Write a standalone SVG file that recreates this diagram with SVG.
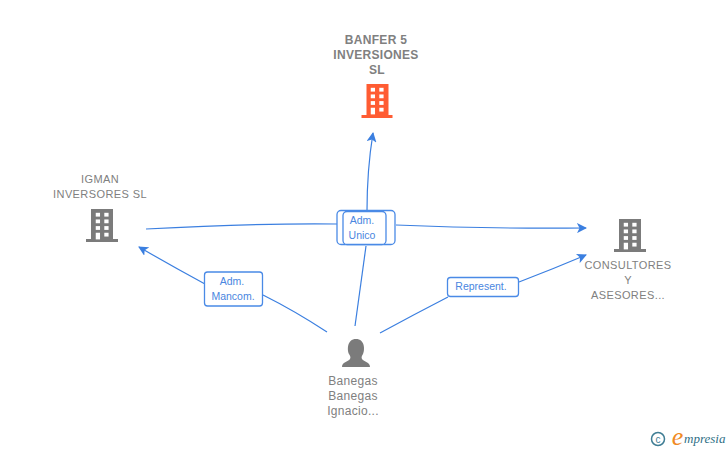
<svg xmlns="http://www.w3.org/2000/svg" width="728" height="450" viewBox="0 0 728 450">
<style>
.n{font-family:"Liberation Sans",Arial,sans-serif;font-size:11px;fill:#808080;text-anchor:middle;letter-spacing:.4px}
.p{font-size:12px;letter-spacing:.3px}
.b{font-weight:bold;font-size:12px;letter-spacing:.3px}
.l{font-family:"Liberation Sans",Arial,sans-serif;font-size:10.500px;fill:#4a86e0;text-anchor:middle}
.c{fill:none;stroke:#3b7fe0;stroke-width:1.2}
.box{fill:#fff;stroke:#4a8ae6;stroke-width:1.3}
.bld{fill:#7b7b7b}
.win{fill:#fff}
</style>
<defs>
<marker id="a" viewBox="0 0 10 10" refX="9" refY="5" markerWidth="10" markerHeight="10" markerUnits="userSpaceOnUse" orient="auto"><path d="M0 0L10 5L0 10L2.5 5Z" fill="#3b7fe0"/></marker>
<g id="w"><rect x="5" y="4" width="4.5" height="4" class="win"/><rect x="14" y="4" width="4.5" height="4" class="win"/><rect x="5" y="11" width="4.5" height="4" class="win"/><rect x="14" y="11" width="4.5" height="4" class="win"/><rect x="5" y="18" width="4.5" height="4" class="win"/><rect x="14" y="18" width="4.5" height="4" class="win"/><rect x="5" y="25" width="4.5" height="7" class="win"/><rect x="14" y="25" width="4.5" height="4" class="win"/></g>
</defs>
<g id="connectors">
<path class="c" d="M146 229Q260 223 337 224"/>
<path class="c" d="M396 225Q490 229 586 228" marker-end="url(#a)"/>
<path class="c" d="M367 211Q367 170 373 133" marker-end="url(#a)"/>
<path class="c" d="M355 326Q360 290 366 246"/>
<path class="c" d="M327 332Q295 311 263 295"/>
<path class="c" d="M205 284Q170 265 139 247" marker-end="url(#a)"/>
<path class="c" d="M380 333Q415 314 448 297"/>
<path class="c" d="M519 282Q553 269 586 255" marker-end="url(#a)"/>
</g>
<g id="node-banfer">
<text class="n b" x="376" y="44">BANFER 5</text><text class="n b" x="376" y="59">INVERSIONES</text><text class="n b" x="377" y="74">SL</text>
<path fill="#ff5c33" d="M366.500 84H388.500V115H392.500V118H361.500V115H366.500Z"/>
<g transform="translate(366 84) scale(.95 .95)"><use href="#w"/></g>
</g>
<g id="node-igman">
<text class="n" x="100" y="183">IGMAN</text><text class="n" x="100" y="198">INVERSORES SL</text>
<path class="bld" d="M91 209H113V239H118V242H86V239H91Z"/>
<g transform="translate(91 209) scale(.95 .95)"><use href="#w"/></g>
</g>
<g id="node-consultores">
<text class="n" x="628" y="269">CONSULTORES</text><text class="n" x="628" y="284">Y</text><text class="n" x="628" y="299">ASESORES...</text>
<path class="bld" d="M619 219H641V249H646V252H614V249H619Z"/>
<g transform="translate(619 219) scale(.95 .95)"><use href="#w"/></g>
</g>
<g id="node-banegas">
<text class="n p" x="353" y="385">Banegas</text><text class="n p" x="353" y="400">Banegas</text><text class="n p" x="353" y="415">Ignacio...</text>
<path class="bld" d="M342 367C342 362 348 362 350 359C351 357 350 356 349 354C347 350 347 339 356 339C365 339 365 350 363 354C362 356 361 357 362 359C364 362 370 362 370 367Z"/>
</g>
<g id="edge-label-adm-unico">
<rect class="box" x="337" y="210.500" width="58" height="34" rx="4"/>
<rect class="box" x="343" y="211.500" width="43" height="33" rx="4"/>
<text class="l" x="362" y="224">Adm.</text><text class="l" x="362" y="239">Unico</text>
</g>
<g id="edge-label-adm-mancom">
<rect class="box" x="204.500" y="272" width="58" height="34" rx="3"/>
<text class="l" x="232" y="285">Adm.</text><text class="l" x="233" y="300">Mancom.</text>
</g>
<g id="edge-label-represent">
<rect class="box" x="447.500" y="277.500" width="71" height="19" rx="3"/>
<text class="l" x="481" y="290">Represent.</text>
</g>
<g id="logo">
<circle cx="658" cy="439" r="6.500" fill="none" stroke="#3f7d94" stroke-width="1.500"/>
<text x="658" y="442.500" font-family="Liberation Sans,sans-serif" font-size="10" fill="#3f7d94" text-anchor="middle">c</text>
<text x="677.500" y="445" font-family="Liberation Serif,serif" font-style="italic" font-size="26" fill="#f08a24" text-anchor="middle">e</text>
<text x="684" y="443" font-family="Liberation Serif,serif" font-style="italic" font-size="13" fill="#2f6f86">mpresia</text>
</g>
</svg>
